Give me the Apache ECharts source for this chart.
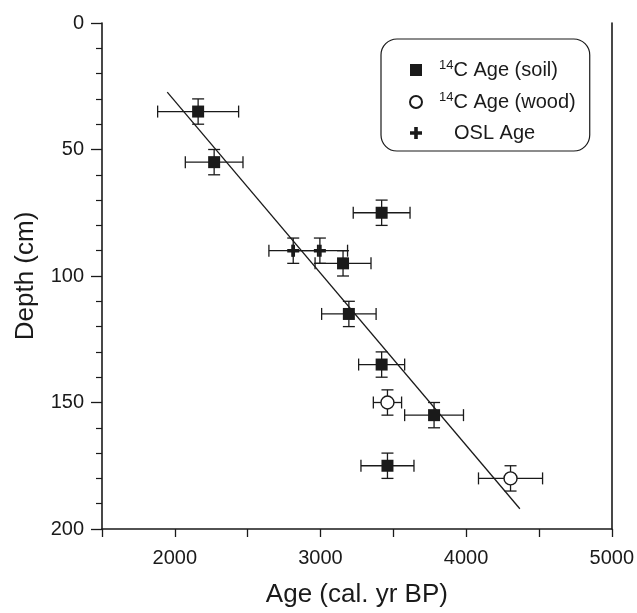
<!DOCTYPE html>
<html>
<head>
<meta charset="utf-8">
<script src="https://cdn.jsdelivr.net/npm/echarts@6/dist/echarts.min.js"></script>
<style>
  html, body { margin: 0; padding: 0; background: #fff; }
  #chart { width: 637px; height: 613px; }
</style>
</head>
<body>
<div id="chart"></div>
<script>
// 14C ages on soil
var soilAge = [2160, 2270, 3420, 3155, 3195, 3420, 3780, 3460];
var soilDepth = [35, 55, 75, 95, 115, 135, 155, 175];
var soilAgeErr = [278, 198, 195, 192, 187, 158, 202, 182];
var soilDepthErr = [5, 5, 5, 5, 5, 5, 5, 5];

// 14C ages on wood
var woodAge = [3460, 4305];
var woodDepth = [150, 180];
var woodAgeErr = [97, 220];
var woodDepthErr = [5, 5];

// OSL ages
var oslAge = [2813, 2996];
var oslDepth = [90, 90];
var oslAgeErr = [167, 190];
var oslDepthErr = [5, 5];

// fitted line ends
var fitAge = [1948, 4369];
var fitDepth = [27.3, 192];

var xTicks = [2000, 3000, 4000, 5000];

var FONT = 'Liberation Sans, Arial, sans-serif';
var INK = '#1a1a1a';

function pts(xs, ys) {
    return xs.map(function(x, i) { return [x, ys[i]]; });
}

function errorBars(name, xs, ys, ex, ey) {
    var data = xs.map(function(x, i) { return [x, ys[i], ex[i], ey[i]]; });
    return {
        name: name + '-err',
        type: 'custom',
        z: 2,
        silent: true,
        encode: { x: 0, y: 1 },
        data: data,
        renderItem: function(params, api) {
            var x = api.value(0), y = api.value(1);
            var dx = api.value(2), dy = api.value(3);
            var l = api.coord([x - dx, y]), r = api.coord([x + dx, y]);
            var t = api.coord([x, y - dy]), b = api.coord([x, y + dy]);
            var cap = 6;
            var st = { stroke: INK, lineWidth: 1.3 };
            function ln(x1, y1, x2, y2) {
                return { type: 'line', shape: { x1: x1, y1: y1, x2: x2, y2: y2 }, style: st };
            }
            return {
                type: 'group',
                children: [
                    ln(l[0], l[1], r[0], r[1]),
                    ln(t[0], t[1], b[0], b[1]),
                    ln(l[0], l[1] - cap, l[0], l[1] + cap),
                    ln(r[0], r[1] - cap, r[0], r[1] + cap),
                    ln(t[0] - cap, t[1], t[0] + cap, t[1]),
                    ln(b[0] - cap, b[1], b[0] + cap, b[1])
                ]
            };
        }
    };
}

var legendText = {
    soil: '{sup|14}{n|C Age (soil)}',
    wood: '{sup|14}{n|C Age (wood)}',
    osl: '{pad|}{n|OSL Age}'
};

var chart = echarts.init(document.getElementById('chart'));

chart.setOption({
    animation: false,
    backgroundColor: '#fff',
    textStyle: { fontFamily: FONT, color: INK },
    grid: { left: 102, right: 25, top: 23, bottom: 82 },
    legend: {
        orient: 'vertical',
        left: 381,
        top: 39,
        padding: [20, 14, 8, 28],
        itemGap: 11,
        itemWidth: 12,
        itemHeight: 12,
        borderColor: INK,
        borderWidth: 1.2,
        borderRadius: 16,
        data: ['soil', 'wood', 'osl'],
        formatter: function(n) { return legendText[n]; },
        textStyle: {
            fontFamily: FONT,
            color: INK,
            fontSize: 20,
            padding: [0, 0, 0, 12],
            rich: {
                sup: { fontSize: 13, fontFamily: FONT, color: INK, padding: [0, 0, 9, 0] },
                n: { fontSize: 20, fontFamily: FONT, color: INK },
                pad: { width: 15 }
            }
        }
    },
    xAxis: {
        type: 'value',
        min: 1500,
        max: 5000,
        interval: 500,
        name: 'Age (cal. yr BP)',
        nameLocation: 'middle',
        nameGap: 53,
        nameTextStyle: { fontSize: 26, fontFamily: FONT, color: INK },
        axisLine: { onZero: false, lineStyle: { color: INK, width: 1.6 } },
        axisTick: { show: true, length: 8, lineStyle: { color: INK, width: 1.3 } },
        axisLabel: {
            fontSize: 20, fontFamily: FONT, color: INK, margin: 19,
            formatter: function(v) { return xTicks.indexOf(v) >= 0 ? String(v) : ''; }
        },
        splitLine: { show: false }
    },
    yAxis: [{
        type: 'value',
        inverse: true,
        min: 0,
        max: 200,
        interval: 50,
        name: 'Depth (cm)',
        nameLocation: 'middle',
        nameGap: 63,
        nameTextStyle: { fontSize: 26, fontFamily: FONT, color: INK },
        axisLine: { onZero: false, lineStyle: { color: INK, width: 1.6 } },
        axisTick: { show: true, length: 11, lineStyle: { color: INK, width: 1.3 } },
        minorTick: { show: true, splitNumber: 5, length: 6, lineStyle: { color: INK, width: 1.2 } },
        axisLabel: { fontSize: 20, fontFamily: FONT, color: INK, margin: 18 },
        splitLine: { show: false },
        minorSplitLine: { show: false }
    }, {
        type: 'value',
        position: 'right',
        inverse: true,
        min: 0,
        max: 200,
        axisLine: { show: true, onZero: false, lineStyle: { color: INK, width: 1.6 } },
        axisTick: { show: false },
        axisLabel: { show: false },
        splitLine: { show: false }
    }],
    series: [
        errorBars('soil', soilAge, soilDepth, soilAgeErr, soilDepthErr),
        errorBars('wood', woodAge, woodDepth, woodAgeErr, woodDepthErr),
        errorBars('osl', oslAge, oslDepth, oslAgeErr, oslDepthErr),
        {
            name: 'fit',
            type: 'line',
            z: 3,
            silent: true,
            symbol: 'none',
            data: pts(fitAge, fitDepth),
            lineStyle: { color: INK, width: 1.3 }
        },
        {
            name: 'soil',
            type: 'scatter',
            z: 4,
            symbol: 'rect',
            symbolSize: 12,
            data: pts(soilAge, soilDepth),
            itemStyle: { color: INK, opacity: 1 }
        },
        {
            name: 'wood',
            type: 'scatter',
            z: 4,
            symbol: 'circle',
            symbolSize: 13,
            data: pts(woodAge, woodDepth),
            itemStyle: { color: '#fff', borderColor: INK, borderWidth: 1.4, opacity: 1 }
        },
        {
            name: 'osl',
            type: 'scatter',
            z: 4,
            symbol: 'path://M35,0H65V35H100V65H65V100H35V65H0V35H35Z',
            symbolSize: 12,
            data: pts(oslAge, oslDepth),
            itemStyle: { color: INK, opacity: 1 }
        }
    ]
});
</script>
</body>
</html>
